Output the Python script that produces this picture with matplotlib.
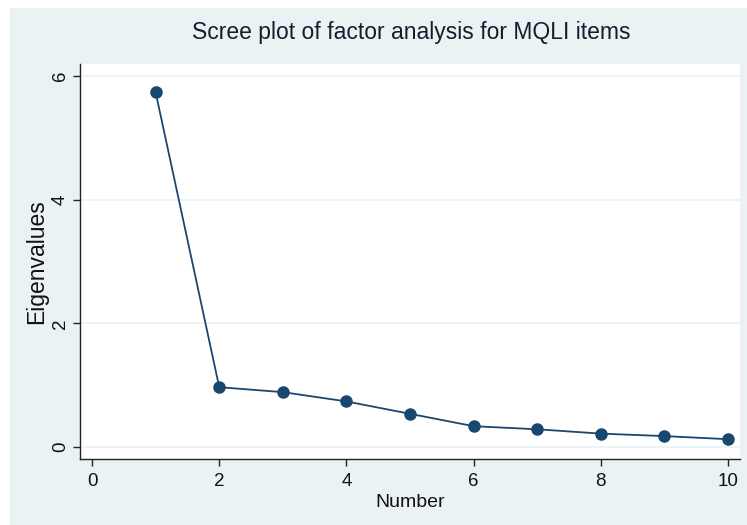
import matplotlib
matplotlib.use("Agg")
import matplotlib.pyplot as plt
from matplotlib.patches import Rectangle

plt.rcParams['font.family'] = ['Liberation Sans', 'DejaVu Sans']

factor_number = [1, 2, 3, 4, 5, 6, 7, 8, 9, 10]
eigenvalues = [5.73, 0.97, 0.89, 0.74, 0.54, 0.34, 0.29, 0.22, 0.18, 0.13]
x_ticks = [0, 2, 4, 6, 8, 10]
y_ticks = [0, 2, 4, 6]

navy = "#1A476F"
bg = "#EAF2F3"

fig = plt.figure(figsize=(7.47, 5.25), dpi=100)
fig.patch.set_facecolor("white")
# Stata-like outer background, with a thin white border at top/left
outer = Rectangle((10 / 747, 0), 1, 1 - 8 / 525, transform=fig.transFigure,
                  facecolor=bg, edgecolor="none", zorder=-10)
fig.add_artist(outer)

ax = fig.add_axes([80 / 747, 1 - 459 / 525, 660 / 747, 395 / 525])
ax.set_zorder(1)
ax.set_facecolor("white")

ax.plot(factor_number, eigenvalues, color=navy, linewidth=1.3, marker="o",
        markersize=8, markerfacecolor=navy, markeredgecolor=navy, zorder=3)

ax.set_xlim(-0.19, 10.19)
ax.set_ylim(-0.19, 6.19)
ax.set_xticks(x_ticks)
ax.set_yticks(y_ticks)
ax.grid(axis="y", color=bg, linewidth=1.2)
ax.set_axisbelow(True)

for side in ["top", "right"]:
    ax.spines[side].set_visible(False)
for side in ["left", "bottom"]:
    ax.spines[side].set_color("#222222")
    ax.spines[side].set_linewidth(1.0)

ax.tick_params(direction="out", length=5, width=1, color="#222222",
               labelsize=13.5, labelcolor="#111111")
ax.tick_params(axis="x", pad=5)
ax.tick_params(axis="y", pad=3)
for lbl in ax.get_yticklabels():
    lbl.set_rotation(90)
    lbl.set_va("center")

ax.set_xlabel("Number", fontsize=14, color="#111111", labelpad=3)
ax.set_ylabel("Eigenvalues", fontsize=16.5, color="#111111", labelpad=3)
fig.text(411 / 747, 1 - 33 / 525, "Scree plot of factor analysis for MQLI items",
         ha="center", va="center", fontsize=16.5, color="#1b1b2e")

fig.savefig("out.png", dpi=100, facecolor=fig.get_facecolor())
